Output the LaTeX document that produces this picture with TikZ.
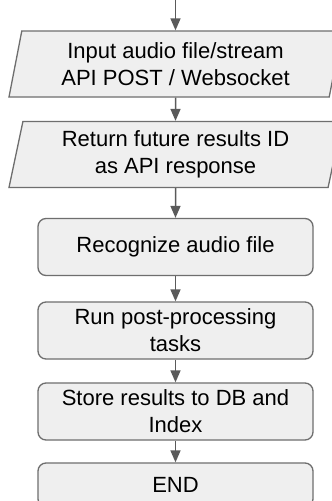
\documentclass[tikz,border=0pt]{standalone}
\usepackage{fontspec}
\setmainfont{Liberation Sans}
\usetikzlibrary{shapes.geometric,arrows.meta}

\definecolor{boxfill}{HTML}{EFEFEF}
\definecolor{boxline}{HTML}{6E6E6E}
\definecolor{flowline}{HTML}{5A5A5A}

\begin{document}
\begin{tikzpicture}[x=1pt,y=-1pt,
    io/.style={trapezium,trapezium left angle=75.6,trapezium right angle=104.4,
               trapezium stretches body,minimum width=333pt,minimum height=66pt},
    task/.style={rectangle,rounded corners=8pt,minimum width=275pt,minimum height=57pt}]
\useasboundingbox (0,0) rectangle (332,501);
\clip (0,0) rectangle (332,501);
\fill[white] (0,0) rectangle (332,501);

\begin{scope}[every node/.style={draw=boxline,fill=boxfill,line width=1.3pt,
              align=center,font=\fontsize{22}{27}\selectfont}]
    \node[io] (input) at (175.5,64) {Input audio file/stream\\API POST / Websocket};
    \node[io] (ticket) at (175.5,154.5) {Return future results ID\\as API response};
    \node[task] (recog) at (175.5,247) {Recognize audio file};
    \node[task] (post) at (175.5,330.5) {Run post-processing\\tasks};
    \node[task] (store) at (175.5,411.5) {Store results to DB and\\Index};
    \node[task,minimum height=44pt] (end) at (175.5,485) {END};
\end{scope}
\coordinate (start) at (175.5,-2);

\begin{scope}[>={Triangle[width=10pt,length=12pt]},
              every edge/.style={draw=flowline,line width=1.5pt}]
    \path [->,flowline] (start) edge (input);
    \path [->,flowline] (input) edge (ticket);
    \path [->,flowline] (ticket) edge (recog);
    \path [->,flowline] (recog) edge (post);
    \path [->,flowline] (post) edge (store);
    \path [->,flowline] (store) edge (end);
\end{scope}
\end{tikzpicture}
\end{document}
